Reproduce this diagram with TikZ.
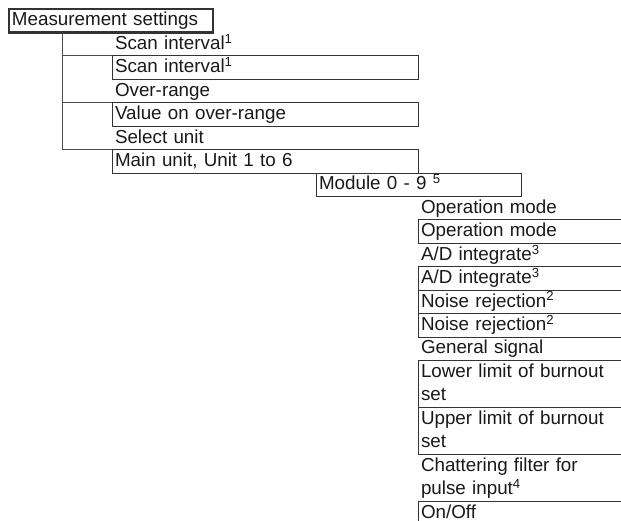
\documentclass[tikz,border=0pt]{standalone}
\usepackage{fontspec}
\setmainfont{Liberation Sans}

\tikzset{
  menu/.style={rectangle, anchor=north west, outer sep=0pt,
               inner xsep=3pt, inner ysep=0pt, text width=300pt,
               minimum height=23.43pt, text height=14pt, text depth=3.5pt,
               font=\fontsize{18.8}{23.43}\selectfont, text=black!90,
               align=left},
  entry/.style={menu, draw=black!80},
  tworow/.style={minimum height=46.86pt, text depth=26.93pt},
  tree/.style={draw=black!70},
}

\begin{document}
\begin{tikzpicture}[x=1pt, y=-1pt, line width=1pt]
  \clip (0,0) rectangle (621,520);
  % top menu
  \node[entry, line width=2.2pt, text width=198pt] (root) at (9,9)
       {Measurement settings};
  % second level
  \node[menu] (scanlbl) at (112,32.43) {Scan interval\textsuperscript{1}};
  \node[entry] (scanbox) at (112,55.86) {Scan interval\textsuperscript{1}};
  \node[menu] (overlbl) at (112,79.29) {Over-range};
  \node[entry] (overbox) at (112,102.72) {Value on over-range};
  \node[menu] (unitlbl) at (112,126.15) {Select unit};
  \node[entry] (unitbox) at (112,149.58) {Main unit, Unit 1 to 6};
  \draw[tree] ([xshift=53pt]root.south west) |- (scanbox.north west);
  \draw[tree] ([xshift=53pt]root.south west) |- (overbox.north west);
  \draw[tree] ([xshift=53pt]root.south west) |- (unitbox.north west);
  % module
  \node[entry, text width=199pt] (modbox) at (316,173.01)
       {Module 0 - 9 \textsuperscript{5}};
  % third level
  \node[menu, text width=260pt] (oplbl) at (418,196.44) {Operation mode};
  \node[entry, text width=260pt] (opbox) at (418,219.87) {Operation mode};
  \node[menu, text width=260pt] (adlbl) at (418,243.3)
       {A/D integrate\textsuperscript{3}};
  \node[entry, text width=260pt] (adbox) at (418,266.73)
       {A/D integrate\textsuperscript{3}};
  \node[entry, text width=260pt] (noisea) at (418,290.16)
       {Noise rejection\textsuperscript{2}};
  \node[entry, text width=260pt] (noiseb) at (418,313.59)
       {Noise rejection\textsuperscript{2}};
  \node[menu, text width=260pt] (siglbl) at (418,337.02) {General signal};
  \node[entry, tworow, text width=260pt] (lowbox) at (418,360.45)
       {Lower limit of burnout\\set};
  \node[entry, tworow, text width=260pt] (upbox) at (418,407.31)
       {Upper limit of burnout\\set};
  \node[menu, tworow, text width=260pt] (chatlbl) at (418,454.17)
       {Chattering filter for\\pulse input\textsuperscript{4}};
  \node[entry, text width=260pt] (onoffbox) at (418,501.03) {On/Off};
\end{tikzpicture}
\end{document}
